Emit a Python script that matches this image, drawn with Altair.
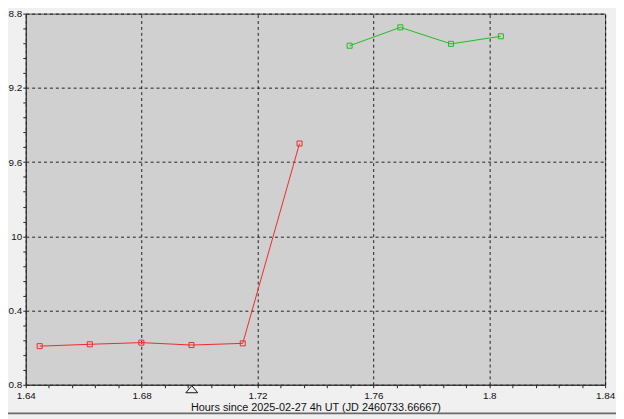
import altair as alt
import pandas as pd

# ---- data ----
red_hours = [1.6448, 1.6621, 1.6799, 1.6972, 1.7149, 1.7345]
red_mag = [10.592, 10.582, 10.573, 10.586, 10.577, 9.500]
green_hours = [1.7518, 1.7693, 1.7868, 1.8040]
green_mag = [8.973, 8.874, 8.963, 8.922]
marker_hour = [1.6973]

x_major = [1.64, 1.68, 1.72, 1.76, 1.80, 1.84]
x_labels = ["1.64", "1.68", "1.72", "1.76", "1.8", "1.84"]
y_major = [8.8, 9.2, 9.6, 10.0, 10.4, 10.8]
y_labels = ["8.8", "9.2", "9.6", "10", "0.4", "0.8"]
x_minor = [round(1.64 + 0.008 * k, 3) for k in range(26)]
y_minor = [round(8.8 + 0.08 * k, 2) for k in range(26)]

x_title = "Hours since 2025-02-27 4h UT (JD 2460733.66667)"

W, H = 587, 376

df = pd.DataFrame(
    {"hours": red_hours + green_hours,
     "mag": red_mag + green_mag,
     "series": ["red"] * len(red_hours) + ["green"] * len(green_hours)}
)
dm = pd.DataFrame({"hours": marker_hour})


def label_expr(vals, labels):
    expr = "''"
    for v, l in reversed(list(zip(vals, labels))):
        expr = f"abs(datum.value - {v}) < 0.0001 ? '{l}' : ({expr})"
    return expr


x_is_major = "abs(datum.value * 25 - round(datum.value * 25)) < 0.01"
y_is_major = "abs(datum.value * 2.5 - round(datum.value * 2.5)) < 0.01"

xscale = alt.Scale(domain=[1.64, 1.84], nice=False, zero=False)
yscale = alt.Scale(domain=[8.8, 10.8], nice=False, zero=False, reverse=True)

xaxis = alt.Axis(
    values=x_minor, tickCount=200, labelExpr=label_expr(x_major, x_labels), title=x_title,
    grid=True, gridDash=[3, 3], gridColor="#000000",
    gridOpacity={"condition": {"test": x_is_major, "value": 0.85}, "value": 0},
    tickSize=3, tickColor="#222222", domainColor="#333333",
    labelFont="Liberation Sans", labelFontSize=10, labelColor="#111111",
    labelPadding=3, labelFlush=False, labelOverlap=False, labelBound=False,
    titleFont="Liberation Sans", titleFontSize=11, titleFontWeight="normal",
    titleColor="#111111", titlePadding=1,
)
yaxis = alt.Axis(
    values=y_minor, tickCount=200, labelExpr=label_expr(y_major, y_labels), title=None,
    grid=True, gridDash=[3, 3], gridColor="#000000",
    gridOpacity={"condition": {"test": y_is_major, "value": 0.85}, "value": 0},
    tickSize=3, tickColor="#222222", domainColor="#333333",
    labelFont="Liberation Sans", labelFontSize=10, labelColor="#111111",
    labelPadding=1, labelFlush=False, labelOverlap=False, labelBound=False,
)

color = alt.Color("series:N", scale=alt.Scale(domain=["red", "green"],
                                               range=["#ee2a2a", "#22bb22"]),
                  legend=None)

base = alt.Chart(df).encode(
    x=alt.X("hours:Q", scale=xscale, axis=xaxis),
    y=alt.Y("mag:Q", scale=yscale, axis=yaxis),
    color=color,
    detail="series:N",
)

lines = base.mark_line(strokeWidth=1)
points = base.mark_point(shape="square", size=26, filled=False, strokeWidth=1, opacity=1)

marker = alt.Chart(dm).mark_point(
    shape="M-1,0.6L0,-0.6L1,0.6Z", size=144, filled=False, color="#111111",
    strokeWidth=1, opacity=1, clip=False
).encode(
    x=alt.X("hours:Q", scale=xscale),
    y=alt.value(H + 4.5),
)

border = alt.Chart(dm).mark_rule(color="#6a6a6a", strokeWidth=2, clip=False).encode(
    x=alt.value(-18), x2=alt.value(W + 11), y=alt.value(H + 29)
)

chart = alt.layer(lines, points, marker, border).properties(
    width=W, height=H,
    autosize=alt.AutoSizeParams(type="none"),
    padding={"left": 18, "top": 3, "right": 11, "bottom": 32},
    background="#f0f0f0",
).configure_view(
    fill="#d0d0d0", stroke="#444444", strokeWidth=1
)

chart.save("out.html", embed_options={"renderer": "svg", "actions": False})
